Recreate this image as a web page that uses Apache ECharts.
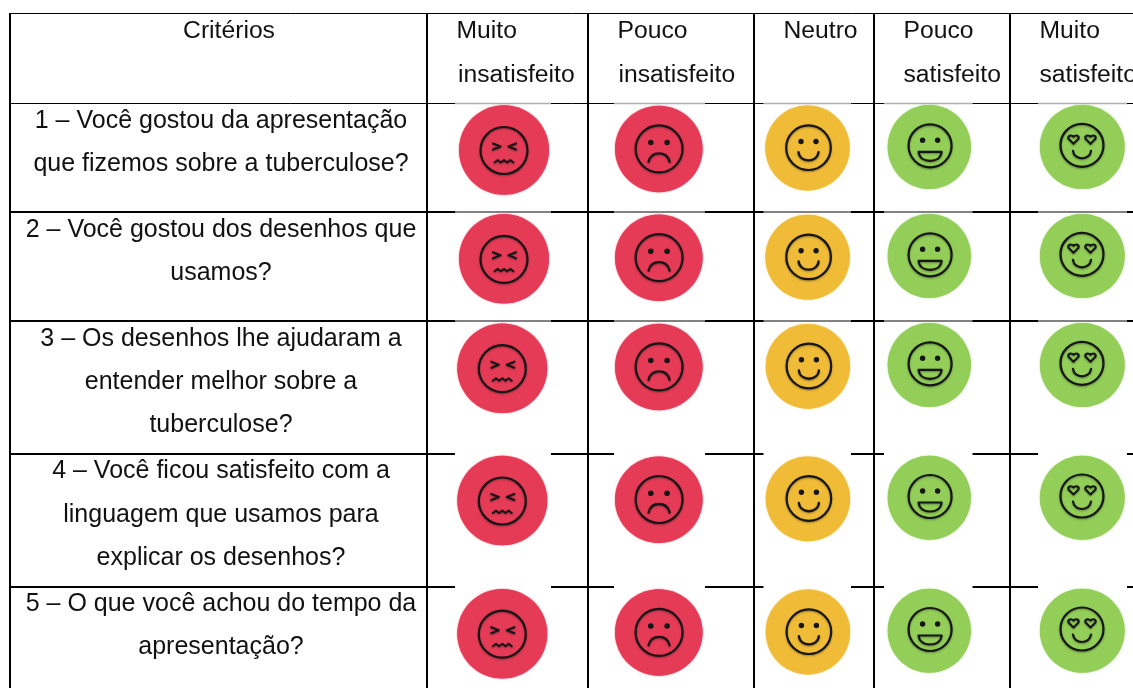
<!DOCTYPE html>
<html>
<head>
<meta charset="utf-8">
<style>html,body{margin:0;padding:0;background:#fff;overflow:hidden}#c{width:1133px;height:688px}</style>
<script src="https://cdn.jsdelivr.net/npm/echarts@6/dist/echarts.min.js"></script>
</head>
<body>
<div id="c"></div>
<script>
// Table text
const headerLabels = ['Critérios','Muito','insatisfeito','Pouco','insatisfeito','Neutro','Pouco','satisfeito','Muito','satisfeito'];
const headerX = [229,456.5,458,617.5,618.5,783.5,903.5,903.5,1039.5,1039.5];
const headerY = [31,31,75,31,75,31,31,75,31,75];
const headerAlign = ['center','left','left','left','left','left','left','left','left','left'];
const criteriaLines = [
  '1 – Você gostou da apresentação','que fizemos sobre a tuberculose?',
  '2 – Você gostou dos desenhos que','usamos?',
  '3 – Os desenhos lhe ajudaram a','entender melhor sobre a','tuberculose?',
  '4 – Você ficou satisfeito com a','linguagem que usamos para','explicar os desenhos?',
  '5 – O que você achou do tempo da','apresentação?'
];
const criteriaY = [121,164,230,273,339,382,425,471,515,558,604,647];
const criteriaX = 221;

// Table rules
const columnEdges = [10,427,588,754,874,1010];
const rowEdges = [13.5,103.5,212,321,454,587];
const rowRuleWidth = [1,1,2,2,2,2];

// Face centres, one array per satisfaction column
const muitoInsatisfeitoX = [504,504,502.3,502.3,502.3];
const muitoInsatisfeitoY = [150,258.8,368.2,500.5,633.7];
const poucoInsatisfeitoX = [658.8,658.8,658.8,658.8,658.8];
const poucoInsatisfeitoY = [149,257.8,367,499.7,632.5];
const neutroX = [807.5,807.6,807.9,807.9,807.9];
const neutroY = [148,257.2,366.3,498.8,632];
const poucoSatisfeitoX = [929.3,929.3,929.3,929.3,929.3];
const poucoSatisfeitoY = [147,256,365,497.7,630.7];
const muitoSatisfeitoX = [1082.3,1082.3,1082.3,1082.3,1082.3];
const muitoSatisfeitoY = [147,256,365,497.7,630.7];

// Horizontal extent of each pasted icon's edge strip
const stripLeft = [455,614,763.5,884,1038];
const stripRight = [551,705,851,972.5,1127];

const INK = '#161616';
const HEADER_FONT = '24.7px "Liberation Sans", Arial, sans-serif';
const BODY_FONT = '25px "Liberation Sans", Arial, sans-serif';

function stroke(d, w){
  return {type:'path', shape:{pathData:d}, style:{fill:'none', stroke:INK, lineWidth:w||2, lineCap:'round', lineJoin:'round', shadowBlur:2, shadowColor:'rgba(0,0,0,.35)', shadowOffsetY:1}};
}
function dot(x,y,r){
  return {type:'circle', shape:{cx:x,cy:y,r:r}, style:{fill:INK}};
}
const heart = (x,y) => `M${x},${y+4.5} L${x-5},${y-.5} C${x-6},${y-3.5} ${x-2.5},${y-5} ${x},${y-2.5} C${x+2.5},${y-5} ${x+6},${y-3.5} ${x+5},${y-.5} Z`;

const faces = {
  irritado: {r:23.5, dx:0, dy:.5, parts:() => [
    stroke('M-11,-7 L-3.5,-4 L-11,-1',2.2), stroke('M12,-7 L4.5,-4 L12,-1',2.2),
    stroke('M-9.5,12 L-6.3,9.6 L-3.2,12 L0,9.6 L3.2,12 L6.3,9.6 L9.5,12',2)
  ]},
  triste: {r:23.5, dx:.3, dy:-.2, parts:() => [
    dot(-8.3,-6.3,2.8), dot(8,-6.3,2.8),
    stroke('M-10.5,13 C-9,6.5 -5,4.5 0,4.5 C5,4.5 9,6.5 10.5,13',2.3)
  ]},
  neutro: {r:22.3, dx:1, dy:-.3, parts:() => [
    dot(-7.5,-6.2,2.7), dot(7.5,-6.2,2.7),
    stroke('M-10,4.5 C-9,15.5 9,15.5 10,4.5',2.3)
  ]},
  contente: {r:21.5, dx:.8, dy:-1.2, parts:() => [
    dot(-7.5,-5.5,2.7), dot(7.5,-5.5,2.7),
    stroke('M-11.5,6 L11.5,6 C11,12 6,15 0,15 C-6,15 -11,12 -11.5,6 Z',2.2)
  ]},
  apaixonado: {r:21.5, dx:-.3, dy:-1.7, parts:() => [
    stroke(heart(-8.5,-6),2.1), stroke(heart(8.5,-6),2.1),
    stroke('M-9,5.5 C-8,15.5 8,15.5 9,5.5',2.2)
  ]}
};

function faceSeries(name, xs, ys, color, rx, ry, kind){
  return {
    type:'custom', name, z:5, silent:true, clip:false,
    data: xs.map((x,i)=>[x,ys[i]]),
    encode:{x:0,y:1},
    renderItem:(p,api)=>{
      const c = api.coord([api.value(0),api.value(1)]);
      const f = faces[kind];
      return {type:'group', x:c[0], y:c[1], children:[
        {type:'ellipse', shape:{cx:0,cy:0,rx:rx,ry:ry}, style:{fill:color, shadowBlur:1.5, shadowColor:color}},
        {type:'group', x:f.dx, y:f.dy, children:[
          {type:'circle', shape:{cx:0,cy:0,r:f.r}, style:{fill:'none', stroke:INK, lineWidth:2.2, shadowBlur:2, shadowColor:'rgba(0,0,0,.35)', shadowOffsetY:1}},
          ...f.parts()
        ]}
      ]};
    }
  };
}

// Rule segments
const ruleSegments = [];
columnEdges.forEach(x => ruleSegments.push([x,rowEdges[0]-.5,x,688,2]));
rowEdges.forEach((y,i) => ruleSegments.push([columnEdges[0],y,1133,y,rowRuleWidth[i]]));

// Icon top edges: grey on rows 1-3, white on rows 4-5
const stripSegments = [];
rowEdges.slice(1).forEach((y,r) => stripLeft.forEach((l,c) => stripSegments.push([l,y,stripRight[c],y,r<3?'#aeaeae':'#ffffff',r<3?1.4:2.4])));

const lineSeries = (data, z, styleOf) => ({
  type:'custom', z, silent:true, clip:false, data: data.map(d=>d.slice(0,4)), encode:{x:[0,2],y:[1,3]},
  renderItem:(p,api)=>{
    const a = api.coord([api.value(0),api.value(1)]);
    const b = api.coord([api.value(2),api.value(3)]);
    return {type:'line', shape:{x1:a[0],y1:a[1],x2:b[0],y2:b[1]}, style:styleOf(data[p.dataIndex])};
  }
});

const textSeries = (name, xs, ys, labels, aligns, font) => ({
  type:'custom', name, z:6, silent:true, clip:false,
  data: xs.map((x,i)=>[x,ys[i]]), encode:{x:0,y:1},
  renderItem:(p,api)=>{
    const c = api.coord([api.value(0),api.value(1)]);
    return {type:'text', x:c[0], y:c[1], style:{text:labels[p.dataIndex], font:font, fill:'#111', textAlign:aligns[p.dataIndex], textVerticalAlign:'middle'}};
  }
});

const chart = echarts.init(document.getElementById('c'));
chart.setOption({
  animation:false,
  backgroundColor:'#fff',
  grid:{left:0,right:0,top:0,bottom:0,containLabel:false},
  xAxis:{type:'value',min:0,max:1133,show:false},
  yAxis:{type:'value',min:0,max:688,inverse:true,show:false},
  series:[
    lineSeries(ruleSegments,1,d=>({stroke:'#000',lineWidth:d[4]})),
    lineSeries(stripSegments,2,d=>({stroke:d[4],lineWidth:d[5]})),
    faceSeries('Muito insatisfeito',muitoInsatisfeitoX,muitoInsatisfeitoY,'#E63B57',45,44.8,'irritado'),
    faceSeries('Pouco insatisfeito',poucoInsatisfeitoX,poucoInsatisfeitoY,'#E63B57',43.8,43.2,'triste'),
    faceSeries('Neutro',neutroX,neutroY,'#F0BC37',42.2,42.4,'neutro'),
    faceSeries('Pouco satisfeito',poucoSatisfeitoX,poucoSatisfeitoY,'#92CE58',41.6,42,'contente'),
    faceSeries('Muito satisfeito',muitoSatisfeitoX,muitoSatisfeitoY,'#92CE58',42.4,42,'apaixonado'),
    textSeries('Cabeçalho',headerX,headerY,headerLabels,headerAlign,HEADER_FONT),
    textSeries('Critérios',criteriaLines.map(()=>criteriaX),criteriaY,criteriaLines,criteriaLines.map(()=>'center'),BODY_FONT)
  ]
});
</script>
</body>
</html>
